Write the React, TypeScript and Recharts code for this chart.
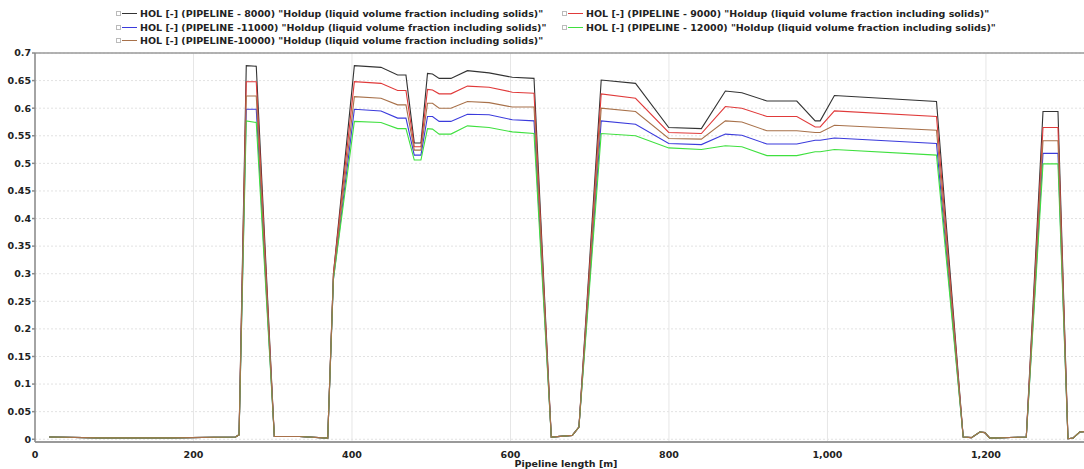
import React from 'react';
import { LineChart, Line, XAxis, YAxis, CartesianGrid, ReferenceLine, Label } from 'recharts';

const FONT = '"DejaVu Sans", Verdana, sans-serif';

// pipeline length [m]
const lengths = [
  18, 82, 170, 253, 257.5, 266.6, 279.2, 302, 333.8, 369.4,
  376.6, 403, 436.6, 457.6, 468.1, 478.6, 487, 495.3, 501.6, 510,
  524.8, 545.7, 573, 602.4, 629.7, 651.5, 678, 686.4, 714.5, 757.8,
  799.7, 840.9, 871.2, 892, 923.6, 961.3, 984.5, 990.8, 1008.8, 1137.6,
  1171.3, 1181.7, 1192.3, 1198.6, 1204.9, 1250.9, 1272, 1290.9, 1303.5, 1309.8,
  1318.3, 1325,
];

const hol8000 = [
  0.004, 0.0025, 0.0025, 0.004, 0.008, 0.677, 0.676, 0.005, 0.005, 0.002,
  0.30, 0.677, 0.674, 0.66, 0.66, 0.537, 0.537, 0.663, 0.662, 0.654,
  0.654, 0.668, 0.664, 0.656, 0.654, 0.004, 0.007, 0.022, 0.651, 0.645,
  0.565, 0.563, 0.631, 0.628, 0.613, 0.613, 0.577, 0.577, 0.623, 0.612,
  0.004, 0.003, 0.013, 0.012, 0.002, 0.004, 0.594, 0.594, 0.001, 0.002,
  0.013, 0.014,
];

const hol9000 = [
  0.004, 0.0025, 0.0025, 0.004, 0.008, 0.648, 0.648, 0.005, 0.005, 0.002,
  0.30, 0.648, 0.645, 0.632, 0.632, 0.53, 0.53, 0.634, 0.633, 0.626,
  0.626, 0.64, 0.638, 0.629, 0.627, 0.004, 0.007, 0.022, 0.626, 0.618,
  0.556, 0.554, 0.603, 0.6, 0.585, 0.585, 0.566, 0.566, 0.595, 0.585,
  0.004, 0.003, 0.013, 0.012, 0.002, 0.004, 0.565, 0.565, 0.001, 0.002,
  0.013, 0.014,
];

const hol11000 = [
  0.004, 0.0025, 0.0025, 0.004, 0.008, 0.598, 0.598, 0.005, 0.005, 0.002,
  0.29, 0.598, 0.595, 0.582, 0.582, 0.515, 0.515, 0.585, 0.585, 0.576,
  0.576, 0.589, 0.588, 0.579, 0.577, 0.004, 0.007, 0.022, 0.577, 0.571,
  0.536, 0.534, 0.553, 0.551, 0.535, 0.535, 0.542, 0.542, 0.546, 0.536,
  0.004, 0.003, 0.013, 0.012, 0.002, 0.004, 0.518, 0.518, 0.001, 0.002,
  0.013, 0.014,
];

const hol10000 = [
  0.004, 0.0025, 0.0025, 0.004, 0.008, 0.622, 0.622, 0.005, 0.005, 0.002,
  0.295, 0.621, 0.618, 0.606, 0.606, 0.524, 0.524, 0.609, 0.609, 0.6,
  0.6, 0.612, 0.61, 0.602, 0.602, 0.004, 0.007, 0.022, 0.6, 0.594,
  0.545, 0.544, 0.577, 0.575, 0.559, 0.559, 0.556, 0.556, 0.569, 0.56,
  0.004, 0.003, 0.013, 0.012, 0.002, 0.004, 0.541, 0.541, 0.001, 0.002,
  0.013, 0.014,
];

const hol12000 = [
  0.004, 0.0025, 0.0025, 0.004, 0.008, 0.577, 0.574, 0.005, 0.005, 0.002,
  0.29, 0.576, 0.574, 0.563, 0.563, 0.506, 0.506, 0.563, 0.562, 0.553,
  0.553, 0.568, 0.565, 0.557, 0.554, 0.004, 0.007, 0.022, 0.554, 0.55,
  0.528, 0.525, 0.532, 0.53, 0.514, 0.514, 0.521, 0.521, 0.525, 0.515,
  0.004, 0.003, 0.013, 0.012, 0.002, 0.004, 0.499, 0.499, 0.001, 0.002,
  0.013, 0.014,
];

const xTicks = [0, 200, 400, 600, 800, 1000, 1200];
const yTicks = [0, 0.05, 0.1, 0.15, 0.2, 0.25, 0.3, 0.35, 0.4, 0.45, 0.5, 0.55, 0.6, 0.65, 0.7];

const TAIL = ' "Holdup (liquid volume fraction including solids)"';

const series = [
  { key: 'p8000', name: 'HOL [-] (PIPELINE - 8000)' + TAIL, color: '#333333' },
  { key: 'p11000', name: 'HOL [-] (PIPELINE -11000)' + TAIL, color: '#3b3bdc' },
  { key: 'p9000', name: 'HOL [-] (PIPELINE - 9000)' + TAIL, color: '#e03a3a' },
  { key: 'p12000', name: 'HOL [-] (PIPELINE - 12000)' + TAIL, color: '#3fe03f' },
  { key: 'p10000', name: 'HOL [-] (PIPELINE-10000)' + TAIL, color: '#a8714a' },
];

const data = lengths.map((x, i) => ({
  x,
  p8000: hol8000[i],
  p9000: hol9000[i],
  p11000: hol11000[i],
  p10000: hol10000[i],
  p12000: hol12000[i],
}));

const legendCols = [
  ['p8000', 'p11000', 'p10000'],
  ['p9000', 'p12000'],
];

function LegendBlock() {
  return (
    <div style={{ position: 'absolute', left: 116, top: 7, display: 'flex', fontFamily: FONT, fontSize: 9.5, fontWeight: 'bold', color: '#222' }}>
      {legendCols.map((col, ci) => (
        <div key={ci} style={{ width: ci === 0 ? 446 : 500 }}>
          {col.map(k => {
            const s = series.find(z => z.key === k)!;
            return (
              <div key={k} style={{ display: 'flex', alignItems: 'center', height: 13.5, whiteSpace: 'nowrap' }}>
                <span style={{ width: 3, height: 3, border: '1px solid #bbb', marginRight: 1 }} />
                <span style={{ width: 15, height: 1.4, background: s.color, marginRight: 3 }} />
                {s.name}
              </div>
            );
          })}
        </div>
      ))}
    </div>
  );
}

const fmtX = (v: number) => v.toLocaleString('en-US');

export default function App() {
  return (
    <div style={{ position: 'absolute', left: 0, top: 0, width: 1084, height: 469, overflow: 'hidden', background: '#fff' }}>
      <LegendBlock />
      <LineChart width={1090} height={469} data={data} margin={{ top: 53, right: 5, bottom: 0, left: 0 }}>
        <CartesianGrid stroke="#e2e2e2" strokeDasharray="2 2" vertical={false} />
        <CartesianGrid stroke="#e6e6e6" horizontal={false} />
        <XAxis
          dataKey="x"
          type="number"
          domain={[0, 1325]}
          ticks={xTicks}
          tickFormatter={fmtX}
          height={27}
          stroke="#9a9a9a"
          strokeWidth={2}
          tickLine={false}
          tick={{ fontSize: 9.5, fontWeight: 'bold', fill: '#222', fontFamily: FONT }}
          tickMargin={3}
          allowDataOverflow
        >
          <Label
            value="Pipeline length [m]"
            position="insideBottom"
            offset={2}
            dx={6}
            style={{ fontSize: 9.5, fontWeight: 'bold', fill: '#222', fontFamily: FONT }}
          />
        </XAxis>
        <YAxis
          type="number"
          domain={[-0.005, 0.7]}
          ticks={yTicks}
          width={35}
          stroke="#8a8a8a"
          strokeWidth={1.5}
          tickSize={3}
          tickMargin={1}
          tick={{ fontSize: 9.5, fontWeight: 'bold', fill: '#222', fontFamily: FONT }}
          allowDataOverflow
        />
        <ReferenceLine y={0.7} stroke="#9a9a9a" strokeWidth={1.5} />
        {['p8000', 'p9000', 'p11000', 'p12000', 'p10000'].map(k => {
          const s = series.find(z => z.key === k)!;
          return (
            <Line
              key={k}
              type="linear"
              dataKey={k}
              name={s.name}
              stroke={s.color}
              strokeWidth={1.1}
              dot={false}
              isAnimationActive={false}
            />
          );
        })}
      </LineChart>
    </div>
  );
}
